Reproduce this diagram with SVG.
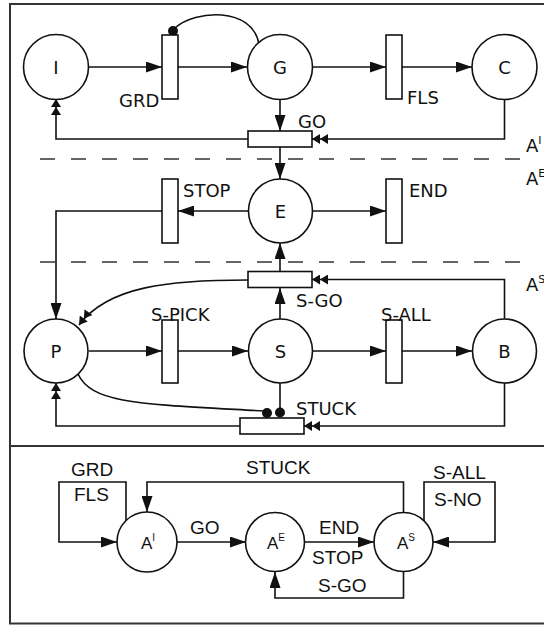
<svg xmlns="http://www.w3.org/2000/svg" width="544" height="625" viewBox="0 0 544 625">
<style>
.frame{fill:none;stroke:#333;stroke-width:2}
.place{fill:#fff;stroke:#111;stroke-width:1.6}
.trans{fill:#fff;stroke:#111;stroke-width:1.6}
.edge{fill:none;stroke:#111;stroke-width:1.6}
.dash{fill:none;stroke:#333;stroke-width:1.6;stroke-dasharray:15 16}
.t{font-family:"DejaVu Sans",sans-serif;font-size:18px;fill:#111}
.b{font-family:"Liberation Sans",Arial,sans-serif;font-size:19px;fill:#111}
.bn{font-family:"Liberation Sans",Arial,sans-serif;font-size:17px;fill:#111}
.dot{fill:#111}
</style>
<defs>
<marker id="arr" viewBox="0 0 16 11" refX="16" refY="5.5" markerWidth="16" markerHeight="11" markerUnits="userSpaceOnUse" orient="auto">
<path d="M0,0 L16,5.5 L0,11 z" fill="#111"/>
</marker>
<marker id="arr2" viewBox="0 0 16 10" refX="16" refY="5" markerWidth="16" markerHeight="10" markerUnits="userSpaceOnUse" orient="auto">
<path d="M8,0 L16,5 L8,10 z M0,0 L8,5 L0,10 z" fill="#111"/>
</marker>
</defs>
<rect width="544" height="625" fill="#fff"/>
<g id="frame">
<rect class="frame" x="10" y="4" width="560" height="442"/>
<rect class="frame" x="10" y="446" width="560" height="177.5"/>
<line class="dash" x1="40" y1="159" x2="522" y2="159"/>
<line class="dash" x1="40" y1="262" x2="522" y2="262"/>
<text class="t" x="526" y="152">A<tspan font-size="11" dy="-8">I</tspan></text>
<text class="t" x="526" y="185">A<tspan font-size="11" dy="-8">E</tspan></text>
<text class="t" x="526" y="291">A<tspan font-size="11" dy="-8">S</tspan></text>
</g>
<g id="connectors">
<path class="edge" d="M89,67 H162" marker-end="url(#arr)"/>
<path class="edge" d="M178,67 H247" marker-end="url(#arr)"/>
<path class="edge" d="M313,67 H386" marker-end="url(#arr)"/>
<path class="edge" d="M402,67 H472" marker-end="url(#arr)"/>
<path class="edge" d="M175,28 C195,10 252,6 259,44"/>
<circle class="dot" cx="173" cy="31" r="5"/>
<path class="edge" d="M280,99 V131" marker-end="url(#arr)"/>
<path class="edge" d="M504.5,99 V139 H312" marker-end="url(#arr2)"/>
<path class="edge" d="M248,139 H56 V99" marker-end="url(#arr2)"/>
<path class="edge" d="M280,147 V179" marker-end="url(#arr)"/>
<path class="edge" d="M248,211 H178" marker-end="url(#arr)"/>
<path class="edge" d="M313,211 H386" marker-end="url(#arr)"/>
<path class="edge" d="M162,211 H56 V319" marker-end="url(#arr)"/>
<path class="edge" d="M89,351 H162" marker-end="url(#arr)"/>
<path class="edge" d="M178,351 H248" marker-end="url(#arr)"/>
<path class="edge" d="M313,351 H386" marker-end="url(#arr)"/>
<path class="edge" d="M402,351 H472" marker-end="url(#arr)"/>
<path class="edge" d="M280,319 V288" marker-end="url(#arr)"/>
<path class="edge" d="M280,271 V243" marker-end="url(#arr)"/>
<path class="edge" d="M504.5,319 V279.5 H312" marker-end="url(#arr2)"/>
<path class="edge" d="M248,280 C170,280 108,286 79,325" marker-end="url(#arr2)"/>
<path class="edge" d="M240,426 H56 V383" marker-end="url(#arr2)"/>
<path class="edge" d="M504.5,383 V426 H304" marker-end="url(#arr2)"/>
<path class="edge" d="M78,374 C92,404 140,404 264,411"/>
<circle class="dot" cx="267" cy="413" r="5"/>
<path class="edge" d="M280,383 V410"/>
<circle class="dot" cx="280" cy="412.5" r="5"/>
<path class="edge" d="M177,542 H246" marker-end="url(#arr)"/>
<path class="edge" d="M304,542 H374" marker-end="url(#arr)"/>
<path class="edge" d="M403.5,572 V598 H275 V572" marker-end="url(#arr)"/>
<path class="edge" d="M403.5,512 V482 H147 V512" marker-end="url(#arr)"/>
<path class="edge" d="M126,521 V482 H59 V542 H117" marker-end="url(#arr)"/>
<path class="edge" d="M424,521 V482 H495 V542 H433" marker-end="url(#arr)"/>
<text class="b" x="190" y="534">GO</text>
<text class="b" x="319" y="534">END</text>
<text class="b" x="312" y="564">STOP</text>
<text class="b" x="318" y="592">S-GO</text>
<text class="b" x="246" y="474">STUCK</text>
<text class="b" x="71" y="476">GRD</text>
<text class="b" x="74" y="501">FLS</text>
<text class="b" x="433" y="479">S-ALL</text>
<text class="b" x="434" y="506">S-NO</text>
</g>
<g id="I"><circle class="place" cx="56" cy="67" r="32.5"/><text class="t" x="56" y="73.5" text-anchor="middle">I</text></g>
<g id="G"><circle class="place" cx="280" cy="67" r="32.5"/><text class="t" x="280" y="73.5" text-anchor="middle">G</text></g>
<g id="C"><circle class="place" cx="504.5" cy="67" r="32.5"/><text class="t" x="504.5" y="73.5" text-anchor="middle">C</text></g>
<g id="E"><circle class="place" cx="280.5" cy="211" r="32"/><text class="t" x="280.5" y="217.5" text-anchor="middle">E</text></g>
<g id="P"><circle class="place" cx="56" cy="351" r="32"/><text class="t" x="56" y="357.5" text-anchor="middle">P</text></g>
<g id="S"><circle class="place" cx="280.5" cy="351" r="32"/><text class="t" x="280.5" y="357.5" text-anchor="middle">S</text></g>
<g id="B"><circle class="place" cx="504.5" cy="351" r="32"/><text class="t" x="504.5" y="357.5" text-anchor="middle">B</text></g>
<g id="GRD"><rect class="trans" x="162" y="35" width="16" height="64"/><text class="t" x="119" y="107">GRD</text></g>
<g id="FLS"><rect class="trans" x="386" y="35" width="16" height="64"/><text class="t" x="407" y="104">FLS</text></g>
<g id="GO"><rect class="trans" x="248" y="131" width="64" height="16"/><text class="t" x="298" y="128">GO</text></g>
<g id="STOP"><rect class="trans" x="162" y="179" width="16" height="64"/><text class="t" x="183" y="197">STOP</text></g>
<g id="END"><rect class="trans" x="386" y="179" width="16" height="64"/><text class="t" x="409" y="197">END</text></g>
<g id="S-GO"><rect class="trans" x="248" y="271.5" width="64" height="16"/><text class="t" x="296" y="307">S-GO</text></g>
<g id="S-PICK"><rect class="trans" x="162" y="320" width="16" height="63"/><text class="t" x="151" y="321">S-PICK</text></g>
<g id="S-ALL"><rect class="trans" x="386" y="320" width="16" height="63"/><text class="t" x="381" y="321">S-ALL</text></g>
<g id="STUCK"><rect class="trans" x="240" y="418" width="64" height="16"/><text class="t" x="296" y="415">STUCK</text></g>
<g id="AI"><circle class="place" cx="147" cy="542" r="30"/><text class="bn" x="148" y="549" text-anchor="middle">A<tspan font-size="10" dy="-8">I</tspan></text></g>
<g id="AE"><circle class="place" cx="275" cy="542" r="29.5"/><text class="bn" x="276" y="549" text-anchor="middle">A<tspan font-size="10" dy="-8">E</tspan></text></g>
<g id="AS"><circle class="place" cx="403.5" cy="542" r="29.5"/><text class="bn" x="406" y="549" text-anchor="middle">A<tspan font-size="10" dy="-8">S</tspan></text></g>
</svg>
